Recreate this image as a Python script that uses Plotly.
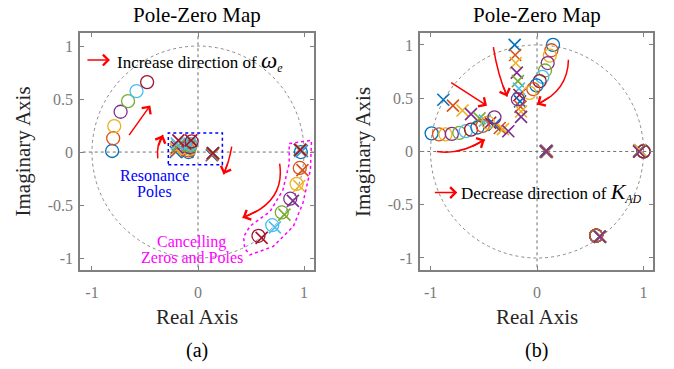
import math
import plotly.graph_objects as go

# MATLAB default colour order, cycled per system
colors = ['#0072BD', '#D95319', '#EDB120', '#7E2F8E', '#77AC30', '#4DBEEE', '#A2142F']

# ---------------- (a) pole-zero locations for increasing omega_e ----------------
a_outer_zero_re = [-0.81, -0.80, -0.79, -0.73, -0.66, -0.58, -0.48]
a_outer_zero_im = [0.01, 0.13, 0.245, 0.38, 0.48, 0.575, 0.66]
a_res_pole1_re = [-0.21, -0.20, -0.21, -0.20, -0.19, -0.20, -0.185]
a_res_pole2_re = [-0.10, -0.10, -0.09, -0.09, -0.08, -0.08, -0.065]
a_res_im = [0.0, 0.015, 0.03, 0.045, 0.06, 0.08, 0.11]
a_res_zero_re = [-0.09, -0.09, -0.08, -0.08, -0.07, -0.07, -0.06]
a_res_zero_im = [0.0, 0.015, 0.03, 0.045, 0.06, 0.075, 0.10]
a_mid_pole_re = [0.13, 0.135, 0.14, 0.14, 0.145, 0.14, 0.14]
a_mid_pole_im = [-0.03, -0.025, -0.02, -0.015, -0.01, -0.01, -0.01]
a_one_pole_re = [0.96, 0.965, 0.97, 0.965, 0.96, 0.97, 0.965]
a_one_pole_im = [0.02, 0.01, 0.02, 0.015, 0.02, 0.01, 0.02]
a_arc_zero_re = [0.97, 0.96, 0.93, 0.87, 0.79, 0.70, 0.57]
a_arc_zero_im = [0.00, -0.15, -0.30, -0.44, -0.57, -0.69, -0.79]
a_arc_pole_re = [0.98, 0.985, 0.955, 0.895, 0.815, 0.725, 0.60]
a_arc_pole_im = [0.01, -0.17, -0.32, -0.46, -0.59, -0.71, -0.81]

# ---------------- (b) pole-zero locations for decreasing K_AD ----------------
b_poleA_re = [-0.21, -0.205, -0.20, -0.19, -0.18, -0.17, -0.165, -0.16, -0.155, -0.15, -0.15]
b_poleA_im = [1.0, 0.905, 0.83, 0.74, 0.66, 0.59, 0.53, 0.47, 0.42, 0.375, 0.325]
b_poleB_re = [-0.88, -0.79, -0.70, -0.62, -0.54, -0.49, -0.44, -0.40, -0.35, -0.32, -0.27]
b_poleB_im = [0.485, 0.43, 0.385, 0.35, 0.31, 0.29, 0.27, 0.25, 0.22, 0.21, 0.19]
b_zeroA_re = [0.15, 0.135, 0.12, 0.10, 0.075, 0.05, 0.025, -0.005, -0.035, -0.07, -0.18]
b_zeroA_im = [1.0, 0.95, 0.90, 0.83, 0.76, 0.70, 0.66, 0.62, 0.585, 0.55, 0.49]
b_zeroB_re = [-0.99, -0.92, -0.86, -0.80, -0.73, -0.67, -0.62, -0.56, -0.51, -0.46, -0.40]
b_zeroB_im = [0.17, 0.16, 0.16, 0.165, 0.175, 0.19, 0.205, 0.225, 0.24, 0.27, 0.32]
b_mid_pole_re = [0.08, 0.085, 0.09, 0.085, 0.09, 0.095, 0.09, 0.085, 0.09, 0.095, 0.09]
b_mid_pole_im = [0.0, -0.005, 0.0, 0.005, -0.005, 0.0, 0.005, 0.0, -0.005, 0.0, 0.0]
b_one_pole_re = [0.96, 0.965, 0.96, 0.965, 0.96, 0.965, 0.96, 0.965, 0.96, 0.965, 0.96]
b_one_pole_im = [0.0, 0.01, 0.0, 0.01, 0.0, 0.01, 0.0, 0.01, 0.0, 0.01, 0.0]
b_one_zero_re = [1.0, 1.0, 1.0, 1.0, 1.0, 1.0, 1.0, None, None, None, None]
b_one_zero_im = [0.0, 0.0, 0.0, 0.0, 0.0, 0.0, 0.0, None, None, None, None]
b_far_pole_re = [0.59] * 11
b_far_pole_im = [-0.80] * 11
b_far_zero_re = [0.555] * 9 + [None, None]
b_far_zero_im = [-0.79] * 9 + [None, None]

SERIF = 'Liberation Serif, Times New Roman, serif'
GRID = '#6f6f6f'
PX_PER_UNIT = 106.0

fig = go.Figure()


def add_system(xa, ya, color, zre, zim, pre, pim):
    zz = [(r, i) for r, i in zip(zre, zim) if r is not None]
    pp = [(r, i) for r, i in zip(pre, pim) if r is not None]
    if zz:
        fig.add_trace(go.Scatter(
            x=[z[0] for z in zz], y=[z[1] for z in zz], xaxis=xa, yaxis=ya,
            mode='markers', hoverinfo='skip',
            marker=dict(symbol='circle-open', size=13, color=color,
                        line=dict(color=color, width=1.3))))
    if pp:
        fig.add_trace(go.Scatter(
            x=[p[0] for p in pp], y=[p[1] for p in pp], xaxis=xa, yaxis=ya,
            mode='markers', hoverinfo='skip',
            marker=dict(symbol='x-thin', size=12, color=color,
                        line=dict(color=color, width=1.6))))


for k in range(len(a_outer_zero_re)):
    c = colors[k % len(colors)]
    add_system('x', 'y', c,
               [a_outer_zero_re[k], a_res_zero_re[k], a_arc_zero_re[k]],
               [a_outer_zero_im[k], a_res_zero_im[k], a_arc_zero_im[k]],
               [a_res_pole1_re[k], a_res_pole2_re[k], a_mid_pole_re[k], a_one_pole_re[k], a_arc_pole_re[k]],
               [a_res_im[k], a_res_im[k], a_mid_pole_im[k], a_one_pole_im[k], a_arc_pole_im[k]])

for k in range(len(b_poleA_re)):
    c = colors[k % len(colors)]
    add_system('x2', 'y2', c,
               [b_zeroA_re[k], b_zeroB_re[k], b_one_zero_re[k], b_far_zero_re[k]],
               [b_zeroA_im[k], b_zeroB_im[k], b_one_zero_im[k], b_far_zero_im[k]],
               [b_poleA_re[k], b_poleB_re[k], b_mid_pole_re[k], b_one_pole_re[k], b_far_pole_re[k]],
               [b_poleA_im[k], b_poleB_im[k], b_mid_pole_im[k], b_one_pole_im[k], b_far_pole_im[k]])

shapes = []
annotations = []

# unit circle and the dotted real/imaginary axes
for xr, yr in [('x', 'y'), ('x2', 'y2')]:
    shapes.append(dict(type='circle', xref=xr, yref=yr, x0=-1, x1=1, y0=-1, y1=1,
                       line=dict(color='#8a8a8a', width=1, dash='3px,3px'), layer='below'))
    shapes.append(dict(type='line', xref=xr, yref=yr, x0=-1.2, x1=1.2, y0=0, y1=0,
                       line=dict(color=GRID, width=1, dash='dot'), layer='below'))
    shapes.append(dict(type='line', xref=xr, yref=yr, x0=0, x1=0, y0=-1.2, y1=1.2,
                       line=dict(color=GRID, width=1, dash='dot'), layer='below'))

# resonance-pole box and cancelling-pair outline
shapes.append(dict(type='rect', xref='x', yref='y', x0=-0.28, x1=0.23, y0=-0.12, y1=0.18,
                   line=dict(color='#0000FF', width=1.5, dash='dot')))
outline = [(0.86, 0.08), (1.07, 0.11), (1.06, -0.17), (0.99, -0.48), (0.90, -0.70),
           (0.71, -0.89), (0.49, -0.97), (0.44, -0.91), (0.43, -0.80), (0.49, -0.70),
           (0.68, -0.56), (0.80, -0.36), (0.86, -0.11)]
path = 'M ' + ' L '.join(f'{px},{py}' for px, py in outline) + ' Z'
shapes.append(dict(type='path', xref='x', yref='y', path=path,
                   line=dict(color='#FF00FF', width=1.5, dash='dot')))

RED = '#FF0000'


def arrow(xr, yr, tail, head):
    annotations.append(dict(xref=xr, yref=yr, axref=xr, ayref=yr, x=head[0], y=head[1],
                            ax=tail[0], ay=tail[1], text='', showarrow=True,
                            arrowhead=4, arrowsize=1.4, arrowwidth=1.5, arrowcolor=RED))


def curved_arrow(xr, yr, p0, ctrl, p1):
    shapes.append(dict(type='path', xref=xr, yref=yr,
                       path=f'M {p0[0]},{p0[1]} Q {ctrl[0]},{ctrl[1]} {p1[0]},{p1[1]}',
                       line=dict(color=RED, width=1.5)))
    # pick a point on the curve roughly 14 px before the end for the head direction
    span = math.hypot(p1[0] - p0[0], p1[1] - p0[1]) * PX_PER_UNIT
    t = max(0.4, 1 - 14.0 / span)
    bx = (1 - t) ** 2 * p0[0] + 2 * (1 - t) * t * ctrl[0] + t ** 2 * p1[0]
    by = (1 - t) ** 2 * p0[1] + 2 * (1 - t) * t * ctrl[1] + t ** 2 * p1[1]
    arrow(xr, yr, (bx, by), p1)


# (a) direction arrows
arrow('x', 'y', (-1.057, 0.868), (-0.83, 0.868))
arrow('x', 'y', (-0.66, 0.145), (-0.45, 0.44))
curved_arrow('x', 'y', (-0.38, -0.06), (-0.393, 0.082), (-0.33, 0.16))
curved_arrow('x', 'y', (0.318, 0.05), (0.293, -0.10), (0.24, -0.21))
curved_arrow('x', 'y', (0.77, -0.11), (0.825, -0.475), (0.42, -0.62))

# (b) direction arrows
arrow('x2', 'y2', (-0.974, -0.386), (-0.749, -0.386))
arrow('x2', 'y2', (-0.82, 0.655), (-0.47, 0.43))
curved_arrow('x2', 'y2', (-0.41, 0.98), (-0.37, 0.72), (-0.28, 0.515))
curved_arrow('x2', 'y2', (0.295, 0.86), (0.29, 0.57), (0.0, 0.44))
curved_arrow('x2', 'y2', (-0.94, 0.0), (-0.725, -0.035), (-0.49, 0.11))

# text notes
annotations.append(dict(xref='x', yref='y', x=-0.785, y=0.858, xanchor='left', yanchor='middle',
                        showarrow=False, font=dict(family=SERIF, size=17, color='#000000'),
                        text="Increase direction of <i><span style='font-size:23px'>ω</span><sub>e</sub></i>"))
annotations.append(dict(xref='x2', yref='y2', x=-0.73, y=-0.386, xanchor='left', yanchor='middle',
                        showarrow=False, font=dict(family=SERIF, size=17, color='#000000'),
                        text="Decrease direction of <i><span style='font-size:22px'>K</span><sub>AD</sub></i>"))
for txt, ty in [('Resonance', -0.224), ('Poles', -0.368)]:
    annotations.append(dict(xref='x', yref='y', x=-0.406, y=ty, showarrow=False,
                            font=dict(family=SERIF, size=16, color='#0000FF'), text=txt))
for txt, ty in [('Cancelling', -0.846), ('Zeros and Poles', -0.993)]:
    annotations.append(dict(xref='x', yref='y', x=-0.06, y=ty, showarrow=False,
                            font=dict(family=SERIF, size=16, color='#FF00FF'), text=txt))

W, H = 674, 369
left_dom = [80 / W, 314 / W]
right_dom = [420 / W, 653 / W]
y_dom = [1 - 269.5 / H, 1 - 33 / H]

for cx, lab_x, tag in [((80 + 314) / 2, 22.5, '(a)'), ((420 + 653) / 2, 363, '(b)')]:
    annotations.append(dict(xref='paper', yref='paper', x=cx / W, y=1 - 15 / H, showarrow=False,
                            xanchor='center', yanchor='middle', text='Pole-Zero Map',
                            font=dict(family=SERIF, size=21, color='#000000')))
    annotations.append(dict(xref='paper', yref='paper', x=cx / W, y=1 - 317 / H, showarrow=False,
                            xanchor='center', yanchor='middle', text='Real Axis',
                            font=dict(family=SERIF, size=21, color='#262626')))
    annotations.append(dict(xref='paper', yref='paper', x=cx / W, y=1 - 350 / H, showarrow=False,
                            xanchor='center', yanchor='middle', text=tag,
                            font=dict(family=SERIF, size=20, color='#000000')))
    annotations.append(dict(xref='paper', yref='paper', x=lab_x / W, y=1 - 152 / H, showarrow=False,
                            xanchor='center', yanchor='middle', text='Imaginary Axis', textangle=-90,
                            font=dict(family=SERIF, size=21, color='#262626')))

axis_common = dict(showgrid=False, zeroline=False, showline=True, mirror='ticks',
                   linecolor='#808080', linewidth=1.5, ticks='inside', ticklen=4,
                   tickcolor='#808080', tickwidth=1,
                   tickfont=dict(family=SERIF, size=16, color='#7a7a7a'))
xt = dict(tickvals=[-1, 0, 1], ticktext=['-1', '0', '1'], ticklabelstandoff=8)
yt = dict(tickvals=[-1, -0.5, 0, 0.5, 1], ticktext=['-1', '-0.5', '0', '0.5', '1'], ticklabelstandoff=2)

fig.update_layout(
    width=W, height=H, margin=dict(l=0, r=0, t=0, b=0),
    paper_bgcolor='white', plot_bgcolor='white', showlegend=False,
    xaxis=dict(domain=left_dom, range=[-1.113, 1.094], anchor='y', **axis_common, **xt),
    yaxis=dict(domain=y_dom, range=[-1.108, 1.123], anchor='x', **axis_common, **yt),
    xaxis2=dict(domain=right_dom, range=[-1.099, 1.089], anchor='y2', **axis_common, **xt),
    yaxis2=dict(domain=y_dom, range=[-1.108, 1.112], anchor='x2', **axis_common, **yt),
    shapes=shapes, annotations=annotations,
)

fig.write_html('out.html')
